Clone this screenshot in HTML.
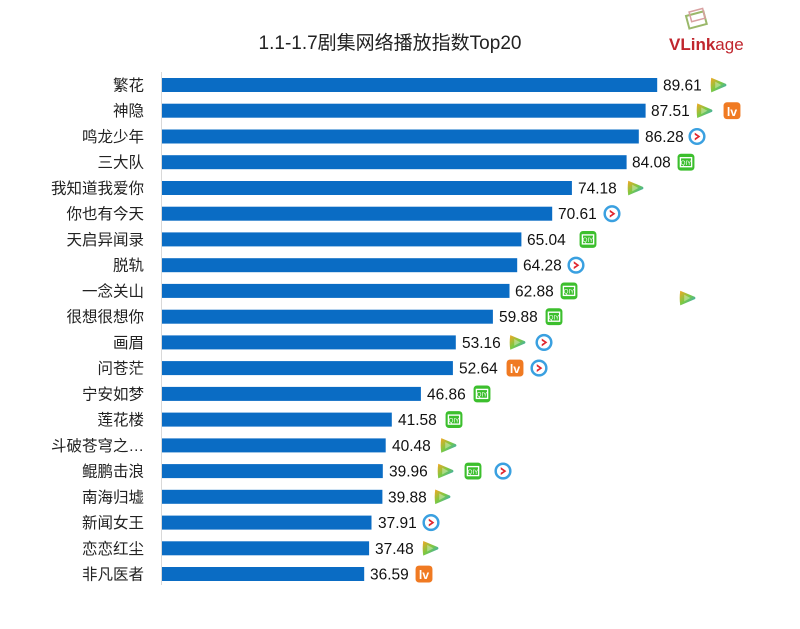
<!DOCTYPE html>
<html><head><meta charset="utf-8"><style>
body{margin:0;background:#fff}
svg text{font-family:"Liberation Sans","Noto Sans CJK SC",sans-serif}
</style></head><body>
<svg width="800" height="624" viewBox="0 0 800 624" xmlns="http://www.w3.org/2000/svg">
<defs>
<linearGradient id="tg" x1="0" y1="0" x2="1" y2="1"><stop offset="0" stop-color="#f5a623"/><stop offset="0.5" stop-color="#7ac943"/><stop offset="1" stop-color="#1e9fe8"/></linearGradient>
<symbol id="T" viewBox="0 0 16 16"><path d="M2 1.5 Q1 8 2 14.5 L15 9 Q16 8 15 7 Z" fill="url(#tg)"/><path d="M5.5 5 L11 8 L5.5 11 Z" fill="#fff" opacity="0.35"/></symbol>
<symbol id="M" viewBox="0 0 16 16"><rect x="0.5" y="0.5" width="15" height="15" rx="3" fill="#f07a22"/><text x="8" y="12.5" font-size="11" fill="#fff" text-anchor="middle" font-weight="bold">lv</text></symbol>
<symbol id="Y" viewBox="0 0 16 16"><circle cx="8" cy="8" r="6.5" fill="#fff" stroke="#3aa0e0" stroke-width="2.2"/><path d="M6 4.5 L11 8 L6 11.5 L6 9.5 L8.5 8 L6 6.5 Z" fill="#e0262e"/></symbol>
<symbol id="I" viewBox="0 0 16 16"><rect x="0.5" y="0.5" width="15" height="15" rx="3" fill="#3cbf2d"/><rect x="3" y="4" width="10" height="8" fill="none" stroke="#fff" stroke-width="1.2"/><text x="8" y="10.5" font-size="5.5" fill="#fff" text-anchor="middle">QIY</text></symbol>
</defs>
<text x="390" y="49" font-size="19" fill="#222" text-anchor="middle">1.1-1.7剧集网络播放指数Top20</text>
<g transform="translate(686,16) rotate(-15)"><rect x="0" y="0" width="18" height="13" fill="none" stroke="#9ab86a" stroke-width="2"/><rect x="4" y="-3" width="14" height="10" fill="none" stroke="#d8a0a0" stroke-width="1.5"/></g>
<text x="669" y="50" font-size="17" font-weight="bold" fill="#c0262e">VLink<tspan font-weight="normal">age</tspan></text>
<line x1="161.5" y1="72" x2="161.5" y2="585" stroke="#d9d9d9"/>
<g fill="#0a6cc4">
<rect x="162" y="78" width="495.2" height="14"/>
<rect x="162" y="103.7" width="483.6" height="14"/>
<rect x="162" y="129.5" width="476.8" height="14"/>
<rect x="162" y="155.2" width="464.6" height="14"/>
<rect x="162" y="181" width="409.9" height="14"/>
<rect x="162" y="206.7" width="390.2" height="14"/>
<rect x="162" y="232.4" width="359.4" height="14"/>
<rect x="162" y="258.2" width="355.2" height="14"/>
<rect x="162" y="283.9" width="347.5" height="14"/>
<rect x="162" y="309.7" width="330.9" height="14"/>
<rect x="162" y="335.4" width="293.8" height="14"/>
<rect x="162" y="361.1" width="290.9" height="14"/>
<rect x="162" y="386.9" width="258.9" height="14"/>
<rect x="162" y="412.6" width="229.8" height="14"/>
<rect x="162" y="438.4" width="223.7" height="14"/>
<rect x="162" y="464.1" width="220.8" height="14"/>
<rect x="162" y="489.8" width="220.4" height="14"/>
<rect x="162" y="515.6" width="209.5" height="14"/>
<rect x="162" y="541.3" width="207.1" height="14"/>
<rect x="162" y="567" width="202.2" height="14"/>
</g>
<g font-size="15.5" fill="#222" text-anchor="end">
<text x="144" y="90.5">繁花</text>
<text x="144" y="116.2">神隐</text>
<text x="144" y="142">鸣龙少年</text>
<text x="144" y="167.7">三大队</text>
<text x="144" y="193.5">我知道我爱你</text>
<text x="144" y="219.2">你也有今天</text>
<text x="144" y="244.9">天启异闻录</text>
<text x="144" y="270.7">脱轨</text>
<text x="144" y="296.4">一念关山</text>
<text x="144" y="322.2">很想很想你</text>
<text x="144" y="347.9">画眉</text>
<text x="144" y="373.6">问苍茫</text>
<text x="144" y="399.4">宁安如梦</text>
<text x="144" y="425.1">莲花楼</text>
<text x="144" y="450.9">斗破苍穹之…</text>
<text x="144" y="476.6">鲲鹏击浪</text>
<text x="144" y="502.3">南海归墟</text>
<text x="144" y="528.1">新闻女王</text>
<text x="144" y="553.8">恋恋红尘</text>
<text x="144" y="579.5">非凡医者</text>
</g>
<g font-size="15.5" fill="#111">
<text x="663" y="90.5">89.61</text>
<text x="651" y="116.2">87.51</text>
<text x="645" y="142">86.28</text>
<text x="632" y="167.7">84.08</text>
<text x="578" y="193.5">74.18</text>
<text x="558" y="219.2">70.61</text>
<text x="527" y="244.9">65.04</text>
<text x="523" y="270.7">64.28</text>
<text x="515" y="296.4">62.88</text>
<text x="499" y="322.2">59.88</text>
<text x="462" y="347.9">53.16</text>
<text x="459" y="373.6">52.64</text>
<text x="427" y="399.4">46.86</text>
<text x="398" y="425.1">41.58</text>
<text x="392" y="450.9">40.48</text>
<text x="389" y="476.6">39.96</text>
<text x="388" y="502.3">39.88</text>
<text x="378" y="528.1">37.91</text>
<text x="375" y="553.8">37.48</text>
<text x="370" y="579.5">36.59</text>
</g>
<g>
<use href="#T" x="709" y="76" width="18" height="18"/>
<use href="#T" x="695" y="101.7" width="18" height="18"/><use href="#M" x="723" y="101.7" width="18" height="18"/>
<use href="#Y" x="688" y="127.5" width="18" height="18"/>
<use href="#I" x="677" y="153.2" width="18" height="18"/>
<use href="#T" x="626" y="179" width="18" height="18"/>
<use href="#Y" x="603" y="204.7" width="18" height="18"/>
<use href="#I" x="579" y="230.4" width="18" height="18"/>
<use href="#Y" x="567" y="256.2" width="18" height="18"/>
<use href="#I" x="560" y="281.9" width="18" height="18"/><use href="#T" x="678" y="289" width="18" height="18"/>
<use href="#I" x="545" y="307.7" width="18" height="18"/>
<use href="#T" x="508" y="333.4" width="18" height="18"/><use href="#Y" x="535" y="333.4" width="18" height="18"/>
<use href="#M" x="506" y="359.1" width="18" height="18"/><use href="#Y" x="530" y="359.1" width="18" height="18"/>
<use href="#I" x="473" y="384.9" width="18" height="18"/>
<use href="#I" x="445" y="410.6" width="18" height="18"/>
<use href="#T" x="439" y="436.4" width="18" height="18"/>
<use href="#T" x="436" y="462.1" width="18" height="18"/><use href="#I" x="464" y="462.1" width="18" height="18"/><use href="#Y" x="494" y="462.1" width="18" height="18"/>
<use href="#T" x="433" y="487.8" width="18" height="18"/>
<use href="#Y" x="422" y="513.6" width="18" height="18"/>
<use href="#T" x="421" y="539.3" width="18" height="18"/>
<use href="#M" x="415" y="565" width="18" height="18"/>
</g>
</svg>
</body></html>
